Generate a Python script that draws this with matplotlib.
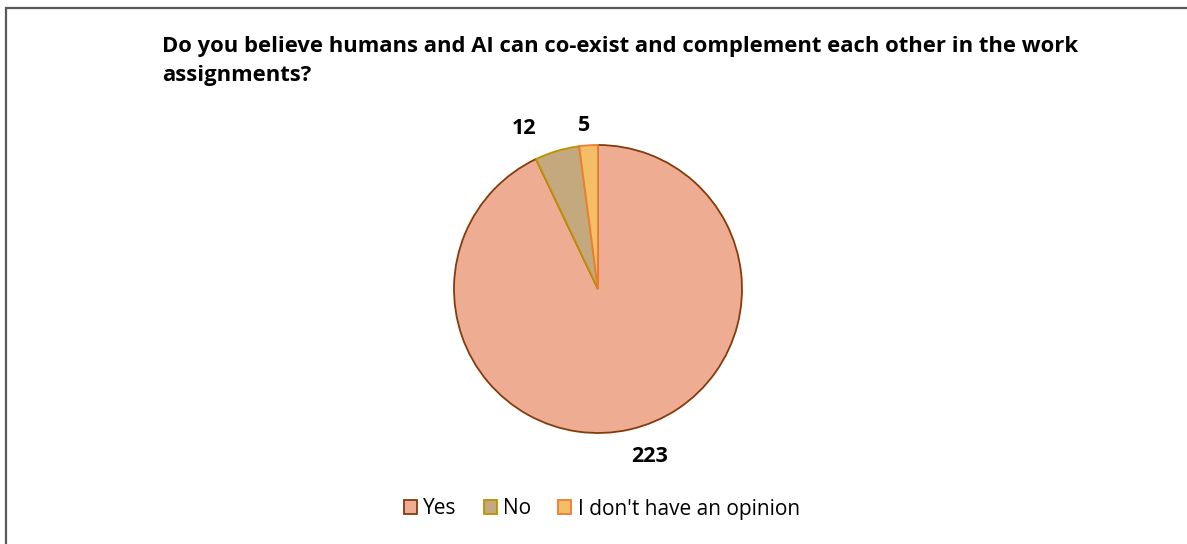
import matplotlib.pyplot as plt
from matplotlib.patches import Rectangle

answers = ['Yes', 'No', "I don't have an opinion"]
counts = [223, 12, 5]
fills = ['#EEAC92', '#C4A87E', '#F3BE66']
edges = ['#843C0C', '#BF9000', '#ED7D31']

title = ('Do you believe humans and AI can co-exist and complement each other in the work\n'
         'assignments?')

W, H = 1187, 544
plt.rcParams['font.family'] = ['Open Sans', 'DejaVu Sans']

fig = plt.figure(figsize=(W / 100, H / 100), dpi=100)
fig.patch.set_facecolor('white')

# outer chart frame (runs off the right and bottom edges)
fig.patches.append(Rectangle((6 / W, -0.1), 1.2, 1 - 8 / H + 0.1, transform=fig.transFigure,
                             fill=False, edgecolor='#595959', linewidth=1.6))

fig.text(162 / W, 1 - 36 / H, title, ha='left', va='top', fontsize=15.8,
         fontweight='bold', linespacing=1.5)

# pie axes, square in pixels
cx, cy, r = 598, 289, 144
ax = fig.add_axes([(cx - r) / W, (H - cy - r) / H, 2 * r / W, 2 * r / H])
wedges, texts = ax.pie(counts, labels=[str(c) for c in counts], colors=fills,
                       startangle=90, counterclock=False, labeldistance=1.18,
                       wedgeprops=dict(linewidth=1.3),
                       textprops=dict(fontsize=15.5, fontweight='bold', ha='center', va='center'))
for w, ec in zip(wedges, edges):
    w.set_edgecolor(ec)
for t in texts:
    t.set_clip_on(False)
# small slices: push labels apart like the spreadsheet does
x, y = texts[1].get_position()
texts[1].set_position((x - 0.18, y - 0.02))
x, y = texts[2].get_position()
texts[2].set_position((x - 0.02, y - 0.04))
x, y = texts[0].get_position()
texts[0].set_position((x + 0.095, y - 0.01))
ax.set_xlim(-1, 1)
ax.set_ylim(-1, 1)

handles = [Rectangle((0, 0), 1, 1, facecolor=f, edgecolor=e, linewidth=1.3)
           for f, e in zip(fills, edges)]
fig.legend(handles, answers, loc='center', bbox_to_anchor=(602 / W, 1 - 509 / H),
           ncol=3, frameon=False, fontsize=15, handlelength=0.62, handleheight=0.62,
           handletextpad=0.3, columnspacing=1.3)

fig.savefig('out.png', dpi=100)
